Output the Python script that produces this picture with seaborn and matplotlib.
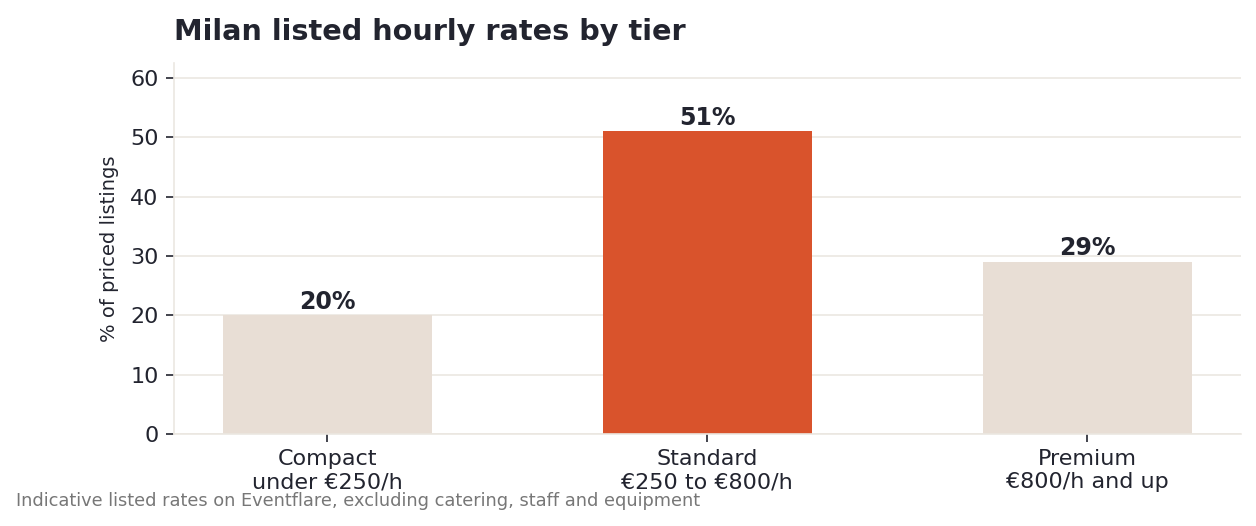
import matplotlib
matplotlib.use("Agg")
import matplotlib.pyplot as plt
import seaborn as sns
import pandas as pd

# ================= DATA =================
tiers = ["Compact\nunder €250/h", "Standard\n€250 to €800/h", "Premium\n€800/h and up"]
shares = [20, 51, 29]
highlight = "Standard\n€250 to €800/h"

TITLE = "Milan listed hourly rates by tier"
YLABEL = "% of priced listings"
CAPTION = "Indicative listed rates on Eventflare, excluding catering, staff and equipment"

# ================= STYLE =================
DARK = "#22242f"
ACCENT = "#d9532c"
MUTED = "#e8ded5"
GRID = "#ebe7e1"

sns.set_theme(style="white")
plt.rcParams["font.family"] = ["DejaVu Sans"]

df = pd.DataFrame({"tier": tiers, "share": shares})
palette = {t: (ACCENT if t == highlight else MUTED) for t in tiers}

fig, ax = plt.subplots(figsize=(12.56, 5.26), dpi=100)
fig.subplots_adjust(left=0.1385, right=0.988, top=0.88, bottom=0.175)

sns.barplot(data=df, x="tier", y="share", hue="tier", palette=palette,
            width=0.55, legend=False, ax=ax, saturation=1, linewidth=0)

# value labels on top of bars
for patch, val in zip(ax.patches, shares):
    ax.text(patch.get_x() + patch.get_width() / 2, val + 0.3, f"{val}%",
            ha="center", va="bottom", fontsize=17, fontweight="bold", color=DARK)

ax.set_ylim(0, 62.5)
ax.set_xlim(-0.403, 2.405)
ax.set_yticks(range(0, 61, 10))
ax.yaxis.grid(True, color=GRID, linewidth=1.2)
ax.set_axisbelow(True)

ax.set_xlabel("")
ax.set_ylabel(YLABEL, fontsize=14, color=DARK, labelpad=8)
ax.tick_params(axis="both", labelsize=16, colors=DARK, length=6, width=1.2,
               bottom=True, left=True, pad=5)
ax.tick_params(axis="x", labelsize=16, pad=5)

sns.despine(ax=ax)
for side in ["left", "bottom"]:
    ax.spines[side].set_color(GRID)
    ax.spines[side].set_linewidth(1.2)

ax.set_title(TITLE, loc="left", fontsize=20.7, fontweight="bold", color=DARK, pad=17)
fig.text(0.013, 0.03, CAPTION, fontsize=12.8, color="#777777", ha="left", va="bottom")

fig.savefig("out.png", dpi=100)
